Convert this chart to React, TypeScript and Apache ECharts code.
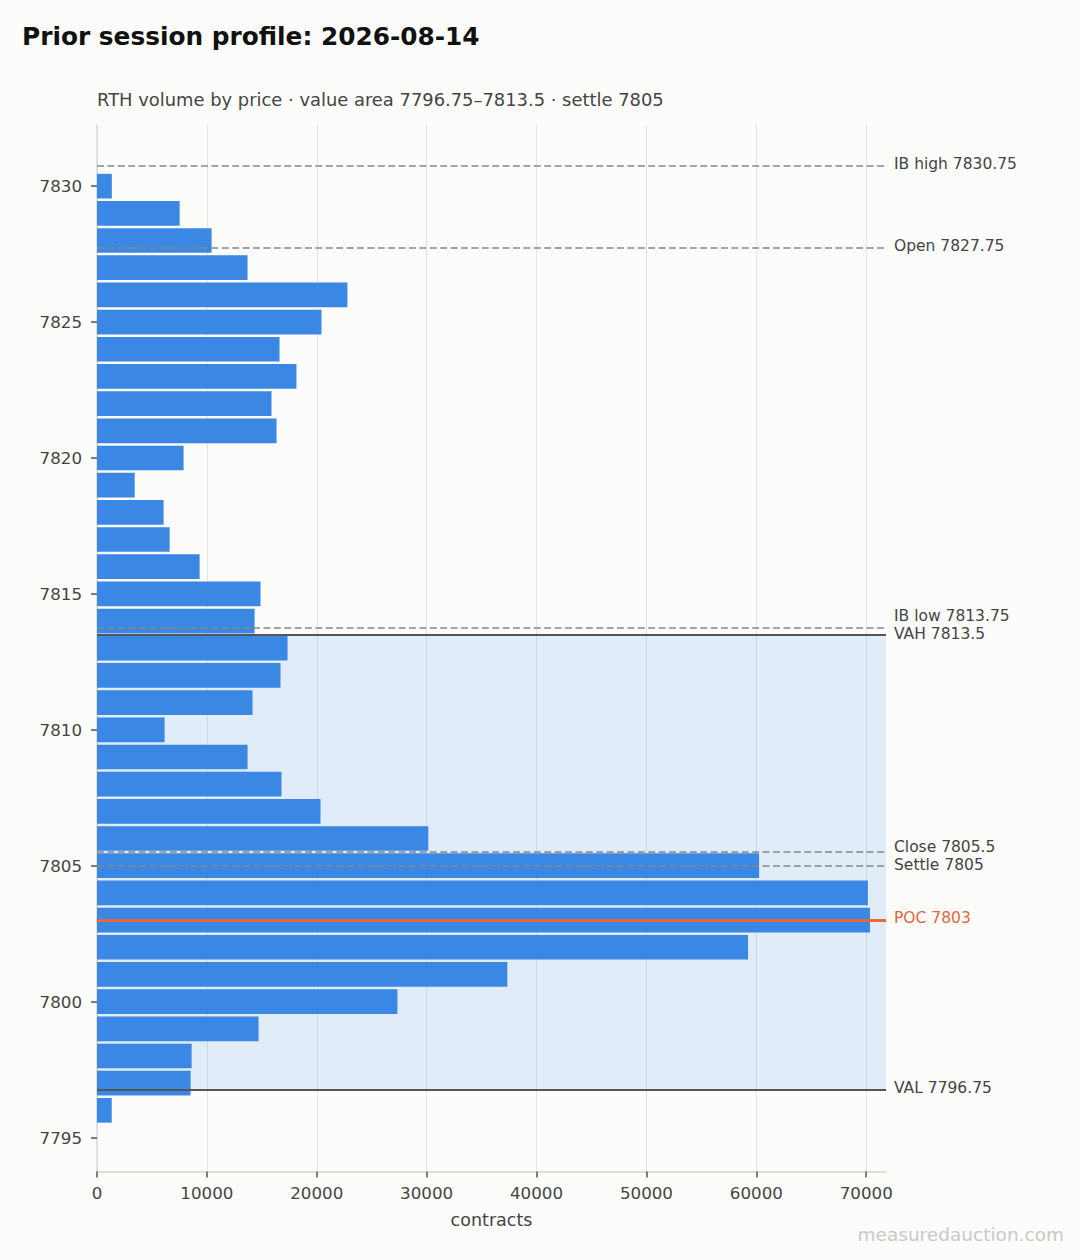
import React, { useEffect, useRef } from 'react';
import * as echarts from 'echarts';

// price levels (one bar per point) and RTH volume traded at each
const prices = [
  7830, 7829, 7828, 7827, 7826, 7825, 7824, 7823, 7822, 7821, 7820, 7819, 7818, 7817, 7816, 7815, 7814, 7813,
  7812, 7811, 7810, 7809, 7808, 7807, 7806, 7805, 7804, 7803, 7802, 7801, 7800, 7799, 7798, 7797, 7796,
];
const volumes = [
  1350, 7520, 10430, 13700, 22790, 20430, 16610, 18150, 15880, 16340, 7880, 3430, 6060, 6610, 9340, 14880, 14340,
  17340, 16700, 14150, 6150, 13700, 16790, 20340, 30150, 60250, 70150, 70340, 59250, 37340, 27340, 14700, 8610,
  8520, 1340,
];

// reference levels drawn across the profile
const levelNames = ['IB high', 'Open', 'IB low', 'VAH', 'Close', 'Settle', 'POC', 'VAL'];
const levelPrices = [7830.75, 7827.75, 7813.75, 7813.5, 7805.5, 7805, 7803, 7796.75];
const levelKinds = ['dash', 'dash', 'dash', 'solid', 'dash', 'dash', 'poc', 'solid'];
// how far a label sits above its line, px (keeps close levels readable)
const levelLift = [1.7, 1.7, 11.5, 0.6, 5, 1, 1.7, 1.7];

const valueArea = [7796.75, 7813.5];

const xTicks = [0, 10000, 20000, 30000, 40000, 50000, 60000, 70000];
const yTicks = [7795, 7800, 7805, 7810, 7815, 7820, 7825, 7830];

const FONT = 'DejaVu Sans';

const App: React.FC = () => {
  const chartRef = useRef<HTMLDivElement>(null);

  useEffect(() => {
    document.body.style.margin = '0';
    const chart = echarts.init(chartRef.current!, null, { renderer: 'svg' });

    const lineStyleFor = (kind: string) => {
      if (kind === 'poc') return { color: '#e8663a', width: 3, type: 'solid' };
      if (kind === 'solid') return { color: '#555555', width: 2, type: 'solid' };
      return { color: '#878787', width: 1.7, type: [7, 3.4] };
    };

    const option = {
      animation: false,
      backgroundColor: '#fcfcfa',
      textStyle: { fontFamily: FONT },
      title: [
        {
          text: 'Prior session profile: 2026-08-14',
          left: 22,
          top: 24,
          padding: 0,
          textStyle: { fontFamily: FONT, fontSize: 24.8, fontWeight: 'bold', color: '#111111' },
        },
        {
          text: 'RTH volume by price · value area 7796.75–7813.5 · settle 7805',
          left: 97,
          top: 90,
          padding: 0,
          textStyle: { fontFamily: FONT, fontSize: 17.9, fontWeight: 'normal', color: '#444444' },
        },
      ],
      graphic: [
        {
          type: 'text',
          right: 16,
          top: 1225,
          style: { text: 'measuredauction.com', fontFamily: FONT, fontSize: 18.5, fill: '#c9c9c6' },
        },
      ],
      grid: { left: 97, right: 194, top: 125, bottom: 88.5, containLabel: false },
      xAxis: {
        type: 'value',
        min: 0,
        max: 71800,
        name: 'contracts',
        nameLocation: 'middle',
        nameGap: 39,
        nameTextStyle: { fontFamily: FONT, fontSize: 17.5, color: '#444444' },
        axisLine: { show: true, lineStyle: { color: '#deded9', width: 2 } },
        axisTick: { show: true, customValues: xTicks, length: 6, lineStyle: { color: '#555555', width: 1.5 } },
        axisLabel: {
          customValues: xTicks,
          margin: 13,
          fontFamily: FONT,
          fontSize: 16.7,
          color: '#444444',
          formatter: (v: number) => String(v),
        },
        splitLine: { show: true, lineStyle: { color: '#e4e4e0', width: 1 } },
      },
      yAxis: {
        type: 'value',
        min: 7793.75,
        max: 7832.25,
        axisLine: { show: true, lineStyle: { color: '#d9d9d4', width: 1.5 } },
        axisTick: { show: true, customValues: yTicks, length: 6, lineStyle: { color: '#555555', width: 1.5 } },
        axisLabel: {
          customValues: yTicks,
          margin: 15,
          fontFamily: FONT,
          fontSize: 16.7,
          color: '#444444',
          formatter: (v: number) => String(v),
        },
        splitLine: { show: false },
      },
      series: [
        {
          type: 'line',
          z: 1,
          data: [],
          silent: true,
          markArea: {
            silent: true,
            itemStyle: { color: 'rgba(40,125,250,0.125)' },
            data: [[{ yAxis: valueArea[0] }, { yAxis: valueArea[1] }]],
          },
        },
        {
          type: 'custom',
          z: 2,
          silent: true,
          encode: { x: 0, y: 1 },
          data: prices.map((p, i) => [volumes[i], p]),
          renderItem: (params: any, api: any) => {
            const price = api.value(1);
            const a = api.coord([0, price + 0.5]);
            const b = api.coord([api.value(0), price - 0.5]);
            return {
              type: 'rect',
              shape: { x: a[0], y: a[1] + 1.25, width: b[0] - a[0], height: b[1] - a[1] - 2.5 },
              style: { fill: '#3a88e3' },
            };
          },
        },
        {
          type: 'line',
          z: 5,
          data: [],
          silent: true,
          markLine: {
            silent: true,
            symbol: ['none', 'none'],
            data: levelNames.map((name, i) => ({
              name,
              yAxis: levelPrices[i],
              lineStyle: lineStyleFor(levelKinds[i]),
              label: {
                show: true,
                position: 'end',
                distance: 8,
                // empty second line pushes the text up by half the line height
                formatter: `${name} ${levelPrices[i]}\n `,
                lineHeight: levelLift[i] * 2,
                fontFamily: FONT,
                fontSize: 15.5,
                color: levelKinds[i] === 'poc' ? '#e8663a' : '#444444',
              },
            })),
          },
        },
      ],
    };

    chart.setOption(option as any);

    return () => {
      chart.dispose();
    };
  }, []);

  return <div ref={chartRef} style={{ width: '1080px', height: '1260px' }} />;
};

export default App;
